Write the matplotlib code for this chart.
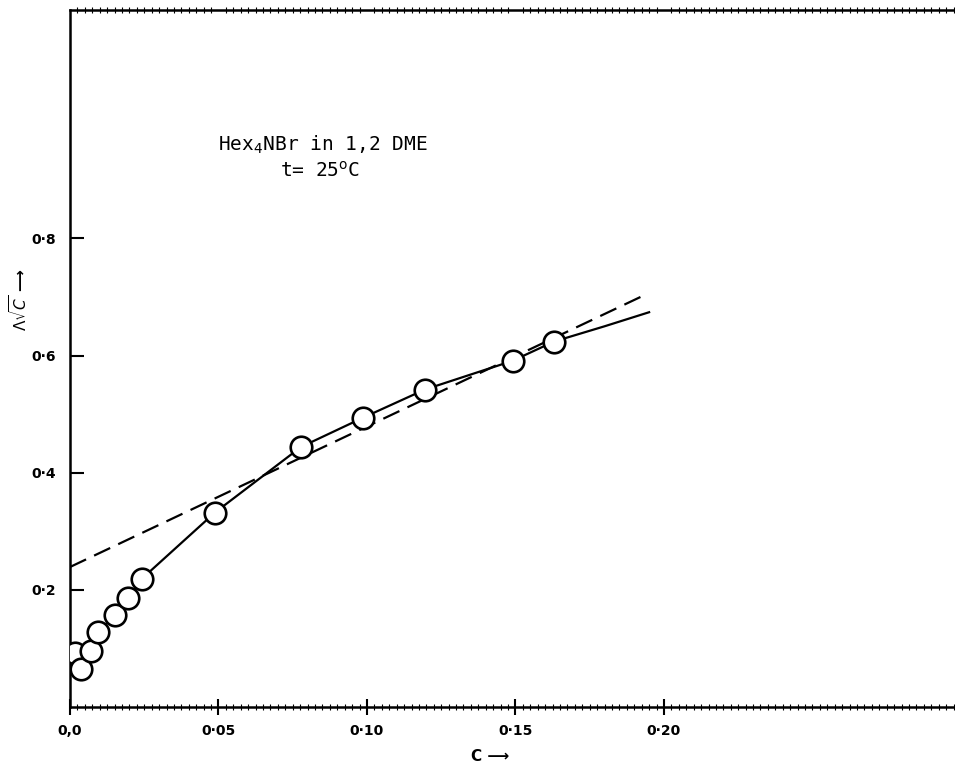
import matplotlib
matplotlib.use("Agg")
import matplotlib.pyplot as plt
from matplotlib.ticker import MultipleLocator

# Data
conc = [0.0017, 0.0037, 0.0071, 0.0094, 0.0152, 0.0195, 0.0242, 0.0488,
        0.0778, 0.0987, 0.1195, 0.1490, 0.1630]
lam_sqrt_c = [0.092, 0.065, 0.096, 0.128, 0.157, 0.186, 0.219, 0.332,
              0.444, 0.494, 0.542, 0.591, 0.624]
# solid curve through points (connecting order) with extension
curve_c = [0.0037, 0.0071, 0.0094, 0.0152, 0.0195, 0.0242, 0.0488,
           0.0778, 0.0987, 0.1195, 0.1490, 0.1630, 0.1800, 0.1950]
curve_y = [0.065, 0.096, 0.128, 0.157, 0.186, 0.219, 0.332,
           0.444, 0.494, 0.542, 0.591, 0.624, 0.650, 0.674]
# dashed limiting straight line
dash_c = [0.0, 0.1925]
dash_y = [0.239, 0.701]

xticks = [0.0, 0.05, 0.10, 0.15, 0.20]
xticklabels = ["0,0", "0·05", "0·10", "0·15", "0·20"]
yticks = [0.2, 0.4, 0.6, 0.8]
yticklabels = ["0·2", "0·4", "0·6", "0·8"]

fig = plt.figure(figsize=(9.55, 7.71), dpi=100)
ax = fig.add_axes([70/955, 1-707/771, 1-70/955, (707-10)/771])
ax.set_xlim(0, 0.298)
ax.set_ylim(0, 1.19)

ax.plot(dash_c, dash_y, color="black", lw=1.6, ls=(0, (8, 4)))
ax.plot(curve_c, curve_y, color="black", lw=1.6)
ax.plot(conc, lam_sqrt_c, ls="none", marker="o", ms=15.5, mfc="white",
        mec="black", mew=1.9, zorder=3)

ax.spines["right"].set_visible(False)
for s in ["left", "bottom", "top"]:
    ax.spines[s].set_linewidth(1.8)

ax.set_xticks(xticks)
ax.set_xticklabels(xticklabels, fontsize=10, fontweight="bold")
ax.set_yticks(yticks)
ax.set_yticklabels(yticklabels, fontsize=10, fontweight="bold")
ax.xaxis.set_minor_locator(MultipleLocator(0.0025))
ax.tick_params(axis="x", which="major", direction="inout", length=12, width=1.5, pad=6)
ax.tick_params(axis="x", which="minor", direction="inout", length=4, width=0.8, top=True)
ax.tick_params(axis="y", which="major", direction="in", length=10, width=1.5, pad=10)

ax.text(0.0498, 0.96, "Hex$_4$NBr in 1,2 DME", family="DejaVu Sans Mono",
        fontsize=14, va="center")
ax.text(0.0707, 0.915, "t= 25$^{\\rm o}$C", family="DejaVu Sans Mono",
        fontsize=14, va="center")

ax.set_xlabel("C ⟶", fontsize=11, fontweight="bold")
ax.xaxis.set_label_coords((490-70)/885, -0.06)
ax.set_ylabel(r"$\Lambda\sqrt{C}$ ⟶", fontsize=11, fontweight="bold")
ax.yaxis.set_label_coords(-0.045, (707-300)/697)

fig.savefig("out.png", dpi=100)
